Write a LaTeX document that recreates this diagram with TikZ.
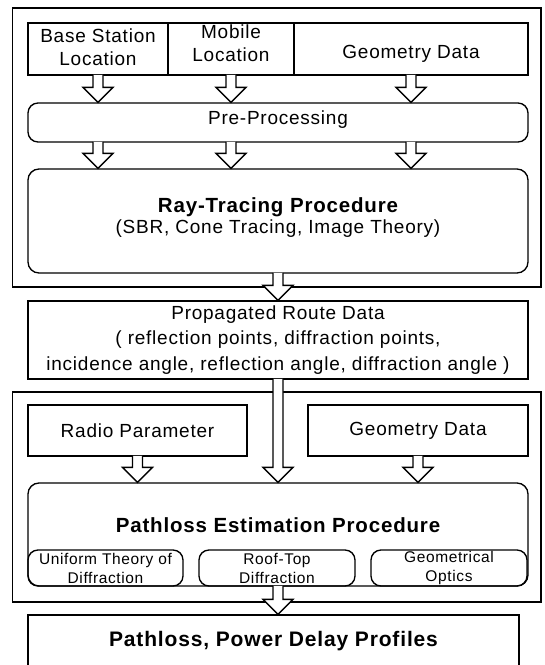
\documentclass[tikz,border=0pt]{standalone}
\usepackage{fontspec}
\setmainfont{Liberation Sans}[LetterSpace=4]
\usetikzlibrary{calc}

\newcommand\regsize{\fontsize{19}{23}\selectfont}
\newcommand\titlesize{\fontsize{20.5}{24}\selectfont\bfseries}
\newcommand\smallsize{\fontsize{15.5}{19}\selectfont}

% hollow block arrow from #1 (start) to #2 (tip)
\newcommand\fatarrow[2]{%
  \draw[fatline] let \p1=(#1), \p2=(#2) in
    (\x1-5pt,\y1+0.8pt) -- (\x1-5pt,\y2+15pt) -- (\x1-15pt,\y2+15pt) --
    (\x1,\y2) -- (\x1+15pt,\y2+15pt) -- (\x1+5pt,\y2+15pt) -- (\x1+5pt,\y1+0.8pt);}

\begin{document}
\begin{tikzpicture}[x=1pt,y=-1pt,
  box/.style={draw, line width=1.35pt, inner sep=0pt, align=center, font=\regsize},
  rbox/.style={box, rounded corners=11pt},
  frame/.style={draw, line width=1.2pt, inner sep=0pt},
  txt/.style={inner sep=0pt, align=center, font=\regsize},
  fatline/.style={draw, fill=white, line width=1.35pt, line join=miter}]
\useasboundingbox (0,0) rectangle (545,665);
\clip (0,0) rectangle (545,665);
\fill[white] (0,0) rectangle (545,665);

% ---- ray-tracing stage ----
\node[frame, minimum width=528.5pt, minimum height=279pt] (outerA) at (276.75,147.5) {};
\node[box, minimum width=140pt, minimum height=52pt] (bs) at (98,49) {};
\node[txt] (bstext) at (98,47) {Base Station\\Location};
\node[box, minimum width=126pt, minimum height=52pt] (mob) at (231,49) {};
\node[txt] (mobtext) at (231,43) {Mobile\\Location};
\node[box, minimum width=234pt, minimum height=52pt] (geoA) at (411,49) {};
\node[txt] (geoAtext) at (411,54) {Geometry Data};

\node[rbox, rounded corners=10pt, minimum width=500pt, minimum height=39pt] (pre) at (278,122.5) {};
\node[txt] (pretext) at (278,120) {Pre-Processing};

\node[rbox, minimum width=500pt, minimum height=104pt] (ray) at (278,221) {};
\node[txt, font=\titlesize] (raytitle) at (278,207) {Ray-Tracing Procedure};
\node[txt] (raysub) at (278,229) {(SBR, Cone Tracing, Image Theory)};

\fatarrow{bs.south}{pre.north -| bs.south}
\fatarrow{mob.south}{pre.north -| mob.south}
\fatarrow{geoA.south}{pre.north -| geoA.south}
\fatarrow{pre.south -| bs.south}{ray.north -| bs.south}
\fatarrow{pre.south -| mob.south}{ray.north -| mob.south}
\fatarrow{pre.south -| geoA.south}{ray.north -| geoA.south}

% ---- route data ----
\node[box, minimum width=500pt, minimum height=78pt,
      font=\fontsize{19}{25.5}\selectfont] (prop) at (278,340)
  {Propagated Route Data\\( reflection points, diffraction points,\\incidence angle, reflection angle, diffraction angle )};

% ---- pathloss stage ----
\node[frame, minimum width=528.5pt, minimum height=210pt] (outerB) at (276.75,497) {};
\node[box, minimum width=219pt, minimum height=51pt] (radio) at (137.5,430.5) {Radio Parameter};
\node[box, minimum width=220pt, minimum height=51pt] (geoB) at (418,430.5) {Geometry Data};

\node[rbox, minimum width=500pt, minimum height=103pt] (pe) at (278,534.5) {};
\node[txt, font=\titlesize] (petitle) at (278,525) {Pathloss Estimation Procedure};
\node[rbox, rounded corners=10pt, minimum width=155pt, minimum height=36pt, font=\smallsize] (utd) at (105.5,568) {Uniform Theory of\\Diffraction};
\node[rbox, rounded corners=10pt, minimum width=156pt, minimum height=36pt, font=\smallsize] (rtd) at (277,568) {Roof-Top\\Diffraction};
\node[rbox, rounded corners=10pt, minimum width=156pt, minimum height=36pt, font=\smallsize] (go) at (449,568) {Geometrical\\Optics};

\node[box, minimum width=491pt, minimum height=52pt, font=\fontsize{21}{24}\selectfont\bfseries] (result) at (273.5,641)
  {Pathloss, Power Delay Profiles};

\fatarrow{ray.south}{prop.north}
\fatarrow{prop.south}{pe.north}
\fatarrow{radio.south}{pe.north -| radio.south}
\fatarrow{geoB.south}{pe.north -| geoB.south}
\fatarrow{pe.south}{result.north -| pe.south}
\end{tikzpicture}
\end{document}
